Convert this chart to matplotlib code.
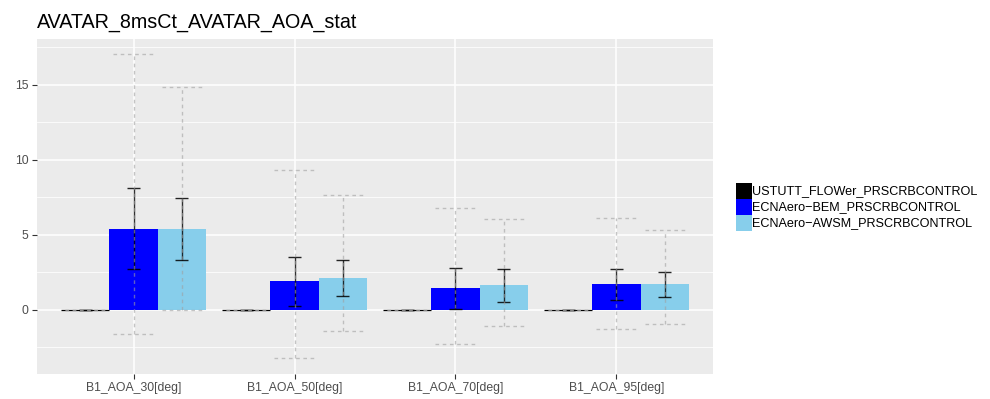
import matplotlib
matplotlib.use("Agg")
import matplotlib.pyplot as plt
from matplotlib.patches import Rectangle
import numpy as np

plt.rcParams['font.family'] = ['Liberation Sans', 'DejaVu Sans']

title = "AVATAR_8msCt_AVATAR_AOA_stat"
categories = ["B1_AOA_30[deg]", "B1_AOA_50[deg]", "B1_AOA_70[deg]", "B1_AOA_95[deg]"]
series_names = ["USTUTT_FLOWer_PRSCRBCONTROL",
                "ECNAero\u2212BEM_PRSCRBCONTROL",
                "ECNAero\u2212AWSM_PRSCRBCONTROL"]
series_colors = ["#000000", "#0000FF", "#87CEEB"]

# mean values
mean_flower = [0.0, 0.0, 0.0, 0.0]
mean_bem = [5.42, 1.90, 1.43, 1.70]
mean_awsm = [5.42, 2.10, 1.63, 1.70]
# standard deviations
std_flower = [0.0, 0.0, 0.0, 0.0]
std_bem = [2.70, 1.63, 1.38, 1.03]
std_awsm = [2.06, 1.20, 1.07, 0.86]
# minimum / maximum
min_flower = [0.0, 0.0, 0.0, 0.0]
max_flower = [0.0, 0.0, 0.0, 0.0]
min_bem = [-1.63, -3.23, -2.25, -1.25]
max_bem = [17.05, 9.33, 6.80, 6.11]
min_awsm = [0.0, -1.41, -1.05, -0.92]
max_awsm = [14.87, 7.66, 6.07, 5.34]

means = [mean_flower, mean_bem, mean_awsm]
stds = [std_flower, std_bem, std_awsm]
mins = [min_flower, min_bem, min_awsm]
maxs = [max_flower, max_bem, max_awsm]

W, H = 990, 399
fig = plt.figure(figsize=(W / 100, H / 100), dpi=100)
left, right, top, bottom = 37, 713, 39, 373.5
ax = fig.add_axes([left / W, 1 - bottom / H, (right - left) / W, (bottom - top) / H])
ax.set_facecolor("#EBEBEB")
for s in ax.spines.values():
    s.set_visible(False)

x = np.arange(1, len(categories) + 1)
bar_w = 0.3
offsets = [-0.3, 0.0, 0.3]

# grid
ax.set_yticks([0, 5, 10, 15])
ax.set_yticks([-2.5, 2.5, 7.5, 12.5, 17.5], minor=True)
ax.set_xticks(x)
ax.set_xticklabels(categories)
ax.grid(which="major", color="white", linewidth=1.1)
ax.grid(which="minor", axis="y", color="white", linewidth=0.55)
ax.set_axisbelow(True)

for i in range(3):
    xs = x + offsets[i]
    if i == 0:
        ax.bar(xs, means[i], width=bar_w, color=series_colors[i],
               edgecolor=series_colors[i], linewidth=0.9, zorder=2)
    else:
        ax.bar(xs, means[i], width=bar_w, color=series_colors[i],
               linewidth=0, zorder=2)

# standard deviation bars (solid) and min/max range (dashed)
for i in range(3):
    xs = x + offsets[i]
    m = np.array(means[i])
    sd = np.array(stds[i])
    lo, hi = m - sd, m + sd
    ax.vlines(xs, lo, hi, color="black", alpha=0.8, linewidth=1.0, zorder=3)
    ax.hlines(lo, xs - 0.04, xs + 0.04, color="black", alpha=0.85, linewidth=1.0, zorder=3)
    ax.hlines(hi, xs - 0.04, xs + 0.04, color="black", alpha=0.85, linewidth=1.0, zorder=3)
for i in range(3):
    xs = x + offsets[i]
    mn = np.array(mins[i])
    mx = np.array(maxs[i])
    kw = dict(color="#A0A0A0", alpha=0.6, linewidth=1.0,
              linestyles=(0, (2.6, 2.6)), zorder=4)
    ax.vlines(xs, mn, mx, **kw)
    ax.hlines(mn, xs - 0.125, xs + 0.125, **kw)
    ax.hlines(mx, xs - 0.125, xs + 0.125, **kw)

ax.set_xlim(0.4, 4.6)
ax.set_ylim(-4.24, 18.06)
ax.tick_params(which="major", length=3.8, width=0.8, color="#333333",
               labelsize=8.8, labelcolor="#4D4D4D", pad=2.2)
ax.tick_params(which="minor", length=0)

fig.text(left / W, 1 - 23 / H, title, fontsize=14.2, color="black",
         ha="left", va="center")

# legend
key = 15.5
ky0 = 183
for i, (name, col) in enumerate(zip(series_names, series_colors)):
    y0 = ky0 + i * 16.2
    fig.patches.append(Rectangle((736 / W, 1 - (y0 + key) / H), key / W, key / H,
                                 transform=fig.transFigure, facecolor=col,
                                 edgecolor="none"))
    fig.text(752 / W, 1 - (y0 + key / 2) / H, name, fontsize=9.1,
             color="black", ha="left", va="center")

fig.savefig("out.png", dpi=100)
